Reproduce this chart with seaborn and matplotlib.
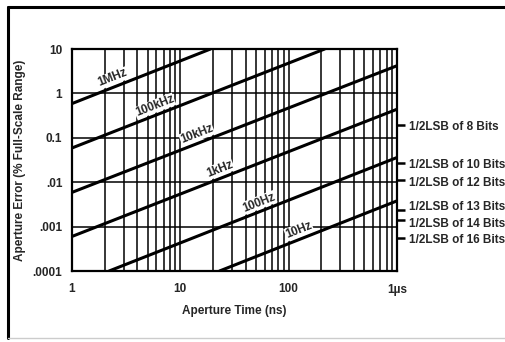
import numpy as np
import pandas as pd
import matplotlib
matplotlib.use("Agg")
import matplotlib.pyplot as plt
from matplotlib.lines import Line2D
from matplotlib.ticker import NullLocator, NullFormatter, FixedLocator
from matplotlib.transforms import offset_copy, blended_transform_factory
import seaborn as sns

freq_labels = ["1MHz", "100kHz", "10kHz", "1kHz", "100Hz", "10Hz"]
t_start = [1, 1, 1, 1, 2.2, 23]
err_start = [0.59, 0.059, 0.0059, 0.0006, 0.0001, 0.0001]
t_end = [19, 215, 1000, 1000, 1000, 1000]
err_end = [10, 10, 4.2, 0.44, 0.036, 0.0038]
label_t = [2.55, 6.2, 15.2, 24.8, 56.8, 133]

x_ticks = [1, 10, 100, 1000]
x_ticklabels = ["1", "10", "100", "1µs"]
y_ticks = [0.0001, 0.001, 0.01, 0.1, 1, 10]
y_ticklabels = [".0001", ".001", ".01", "0.1", "1", "10"]

lsb_values = [0.19, 0.027, 0.011, 0.0024, 0.0014, 0.00054]
lsb_labels = ["1/2LSB of 8 Bits", "1/2LSB of 10 Bits", "1/2LSB of 12 Bits",
              "1/2LSB of 13 Bits", "1/2LSB of 14 Bits", "1/2LSB of 16 Bits"]

FS = 8.5
# small vertical nudges (points) so the crowded right labels don't collide
lsb_nudge = [0, 0, -0.5, 3.0, -2.0, 0]

sns.set_theme(style="white")
plt.rcParams["font.family"] = ["Liberation Sans", "DejaVu Sans"]
plt.rcParams["font.weight"] = "bold"
plt.rcParams["font.size"] = FS
plt.rcParams["axes.labelsize"] = FS
plt.rcParams["xtick.labelsize"] = FS
plt.rcParams["ytick.labelsize"] = FS

rows = []
for name, t0, e0, t1, e1 in zip(freq_labels, t_start, err_start, t_end, err_end):
    rows.append({"freq": name, "time": t0, "err": e0})
    rows.append({"freq": name, "time": t1, "err": e1})
df = pd.DataFrame(rows)

fig = plt.figure(figsize=(5.06, 3.42), dpi=100)
ax = fig.add_axes([72 / 506, 1 - 271 / 342, (397 - 72) / 506, (271 - 49) / 342])

ax.set_xscale("log")
ax.set_yscale("log")

sns.lineplot(data=df, x="time", y="err", hue="freq", units="freq", estimator=None,
             palette=["black"] * len(freq_labels), linewidth=2.2, legend=False,
             ax=ax, zorder=3)
ax.set_xlim(1, 1000)
ax.set_ylim(0.0001, 10)

ax.xaxis.set_major_locator(FixedLocator(x_ticks))
ax.set_xticklabels(x_ticklabels)
ax.xaxis.set_minor_formatter(NullFormatter())
ax.yaxis.set_major_locator(FixedLocator(y_ticks))
ax.set_yticklabels(y_ticklabels)
ax.yaxis.set_minor_locator(NullLocator())
ax.tick_params(which="both", length=0)
ax.tick_params(axis="x", pad=9)
ax.tick_params(axis="y", pad=7)

ax.grid(which="major", axis="both", color="black", linewidth=1.1)
ax.grid(which="minor", axis="x", color="black", linewidth=1.1)
ax.set_axisbelow(True)
for sp in ax.spines.values():
    sp.set_color("black")
    sp.set_linewidth(1.6)

ax.set_xlabel("Aperture Time (ns)", fontweight="bold", labelpad=7)
ax.set_ylabel("Aperture Error (% Full-Scale Range)", fontweight="bold", labelpad=5)

# curve labels sitting just above each line
for name, t0, e0, t1, e1, tl in zip(freq_labels, t_start, err_start, t_end, err_end, label_t):
    frac = (np.log10(tl) - np.log10(t0)) / (np.log10(t1) - np.log10(t0))
    el = 10 ** (np.log10(e0) + frac * (np.log10(e1) - np.log10(e0)))
    p0 = ax.transData.transform((t0, e0))
    p1 = ax.transData.transform((t1, e1))
    ang = np.degrees(np.arctan2(p1[1] - p0[1], p1[0] - p0[0]))
    d = 2.0
    tr = offset_copy(ax.transData, fig=fig, x=-np.sin(np.radians(ang)) * d,
                     y=np.cos(np.radians(ang)) * d, units="points")
    ax.text(tl, el, name, rotation=ang, rotation_mode="anchor", ha="center", va="bottom",
            fontsize=8.5, fontweight="bold", zorder=4, transform=tr,
            bbox=dict(facecolor="white", edgecolor="none", pad=0.3))

# right-hand LSB markers: tick marks from a twin axis, labels as texts
ax2 = ax.twinx()
ax2.set_yscale("log")
ax2.set_ylim(0.0001, 10)
ax2.yaxis.set_major_locator(FixedLocator(lsb_values))
ax2.yaxis.set_major_formatter(NullFormatter())
ax2.yaxis.set_minor_locator(NullLocator())
ax2.tick_params(axis="y", length=6, width=1.8, color="black")
for sp in ax2.spines.values():
    sp.set_visible(False)

blend = blended_transform_factory(ax.transAxes, ax.transData)
for val, lab, nudge in zip(lsb_values, lsb_labels, lsb_nudge):
    tr = offset_copy(blend, fig=fig, x=8.5, y=nudge, units="points")
    ax.text(1.0, val, lab, transform=tr, ha="left", va="center_baseline", fontsize=FS,
            fontweight="bold", clip_on=False)

# page frame
fig.add_artist(Line2D([8 / 506, 1], [1 - 7 / 342] * 2, color="black", linewidth=2.2))
fig.add_artist(Line2D([8 / 506] * 2, [1 - 7 / 342, 1 - 338 / 342], color="black", linewidth=2.2))
fig.add_artist(Line2D([8 / 506, 1], [1 - 338 / 342] * 2, color="#cccccc", linewidth=1.0))

fig.savefig("out.png", dpi=100)
